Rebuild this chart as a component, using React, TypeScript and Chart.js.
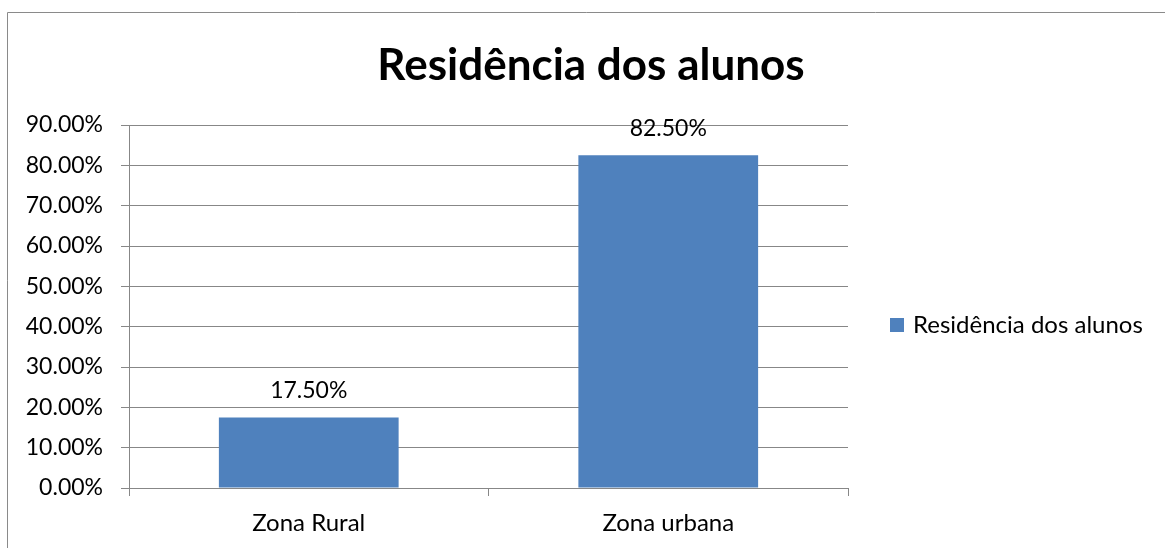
import React, { useEffect, useRef } from "react";
import { Chart, registerables } from "chart.js";

Chart.register(...registerables);

const categories = ["Zona Rural", "Zona urbana"];
const seriesName = "Residência dos alunos";
const values = [17.5, 82.5];
const yMax = 90;
const yStep = 10;
const chartTitle = "Residência dos alunos";

const FONT = "Lato, 'Open Sans', sans-serif";
const GRID = "#878787";
const BAR = "#4F81BD";
const PAD_LEFT = 17;

export default function App() {
  const ref = useRef<HTMLCanvasElement | null>(null);

  useEffect(() => {
    if (!ref.current) return;

    const frame = {
      id: "frame",
      beforeDraw(chart: any) {
        const ctx = chart.ctx;
        ctx.save();
        ctx.fillStyle = "#fff";
        ctx.fillRect(0, 0, chart.width, chart.height);
        ctx.strokeStyle = "#8a8a8a";
        ctx.lineWidth = 1;
        ctx.beginPath();
        ctx.moveTo(7.5, chart.height);
        ctx.lineTo(7.5, 12.5);
        ctx.lineTo(chart.width, 12.5);
        ctx.stroke();
        ctx.restore();
      },
    };

    const valueLabels = {
      id: "valueLabels",
      afterDatasetsDraw(chart: any) {
        const ctx = chart.ctx;
        const meta = chart.getDatasetMeta(0);
        ctx.save();
        ctx.font = `23px ${FONT}`;
        ctx.fillStyle = "#000";
        ctx.textAlign = "center";
        ctx.textBaseline = "middle";
        meta.data.forEach((el: any, i: number) => {
          ctx.fillText(values[i].toFixed(2) + "%", el.x, el.y - 27);
        });
        ctx.restore();
      },
    };

    const sideLegend = {
      id: "sideLegend",
      afterDraw(chart: any) {
        const ctx = chart.ctx;
        const ds = chart.data.datasets[0];
        const x = chart.chartArea.right + 42;
        const y = 325;
        ctx.save();
        ctx.fillStyle = ds.backgroundColor;
        ctx.fillRect(x, y - 7, 14, 14);
        ctx.font = `24px ${FONT}`;
        ctx.fillStyle = "#000";
        ctx.textAlign = "left";
        ctx.textBaseline = "middle";
        ctx.fillText(ds.label, x + 23, y);
        ctx.restore();
      },
    };

    const chart = new Chart(ref.current, {
      type: "bar",
      data: {
        labels: categories,
        datasets: [
          {
            label: seriesName,
            data: values,
            backgroundColor: BAR,
            borderWidth: 0,
            barPercentage: 0.5,
            categoryPercentage: 1,
          },
        ],
      },
      options: {
        responsive: false,
        animation: false,
        devicePixelRatio: 1,
        layout: { padding: { left: PAD_LEFT, right: 0, top: 0, bottom: 0 } },
        plugins: {
          legend: { display: false },
          tooltip: { enabled: false },
          title: {
            display: true,
            text: chartTitle,
            color: "#000",
            font: { family: FONT, size: 44, weight: "bold", lineHeight: 1.2 },
            padding: { top: 39.6, bottom: 32.6 },
            align: "center",
          },
        },
        scales: {
          x: {
            offset: true,
            grid: {
              offset: true,
              drawOnChartArea: false,
              drawTicks: true,
              tickLength: 8,
              color: GRID,
            },
            border: { display: true, color: GRID },
            ticks: {
              color: "#000",
              font: { family: FONT, size: 24 },
              padding: 12.6,
              maxRotation: 0,
            },
            afterFit(scale: any) {
              scale.height = 60;
            },
          },
          y: {
            min: 0,
            max: yMax,
            grid: { color: GRID, tickLength: 8, drawTicks: true },
            border: { display: true, color: GRID },
            ticks: {
              stepSize: yStep,
              color: "#000",
              font: { family: FONT, size: 23 },
              padding: 18,
              callback: (v: any) => Number(v).toFixed(2) + "%",
            },
            afterFit(scale: any) {
              scale.width = 129 - PAD_LEFT;
            },
          },
          legendSpace: {
            type: "linear",
            position: "right",
            display: true,
            grid: { display: false, drawTicks: false },
            border: { display: false },
            ticks: { display: false },
            afterFit(scale: any) {
              scale.width = 317;
            },
          },
        },
      },
      plugins: [frame, valueLabels, sideLegend],
    });

    return () => chart.destroy();
  }, []);

  return (
    <div style={{ position: "fixed", left: 0, top: 0, width: 1165, height: 548 }}>
      <canvas ref={ref} width={1165} height={548} style={{ display: "block" }} />
    </div>
  );
}
